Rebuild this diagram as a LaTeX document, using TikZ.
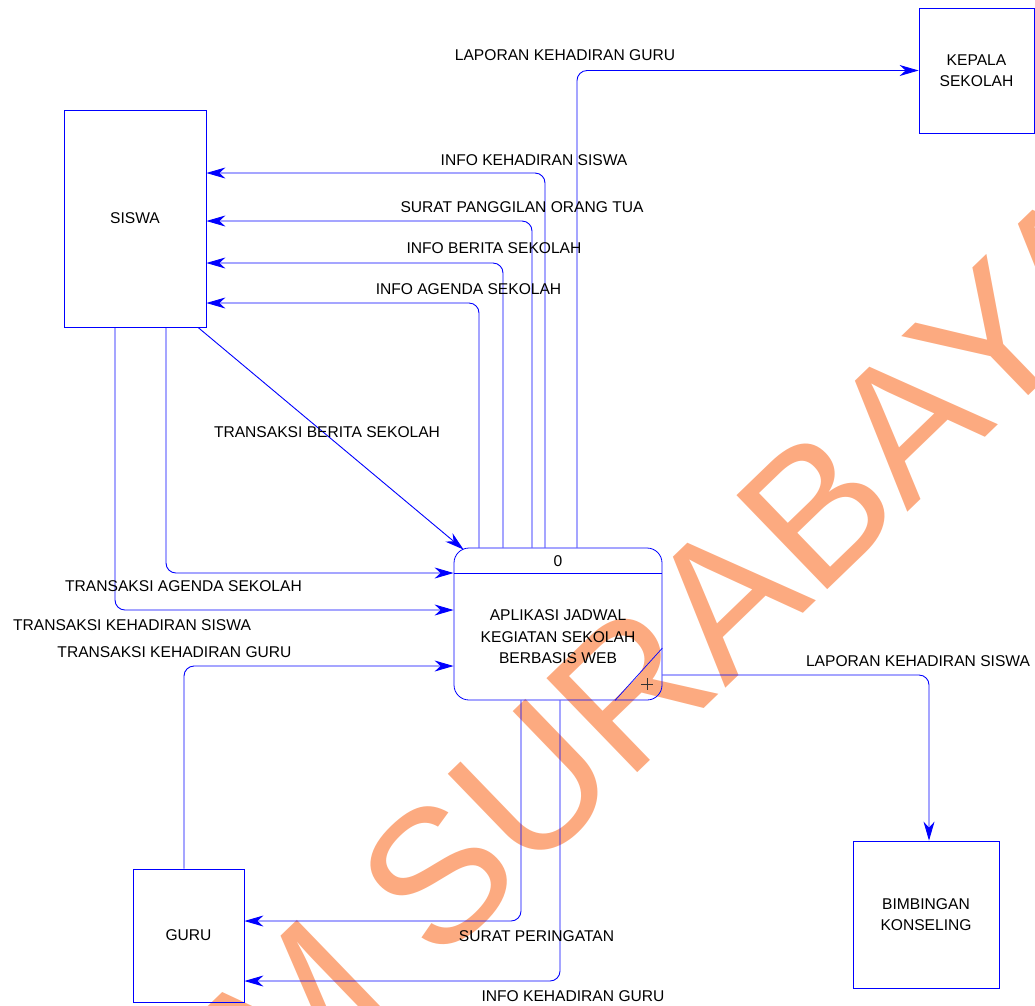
\documentclass[tikz,border=0pt]{standalone}
\usepackage{fontspec}
\setmainfont{Liberation Sans}
\usetikzlibrary{arrows.meta}
\definecolor{wmorange}{RGB}{252,170,128}
\definecolor{lineblue}{RGB}{0,0,255}
\tikzset{
  lbl/.style={inner sep=0pt, font=\fontsize{15.6}{21.5}\selectfont, text=black},
  entity/.style={draw=lineblue, line width=0.8pt, inner sep=0pt, align=center,
    font=\fontsize{15.6}{21.5}\selectfont},
  procbox/.style={draw=lineblue, line width=0.8pt, rounded corners=15pt, inner sep=0pt},
  flow/.style={draw=lineblue, line width=0.9pt, rounded corners=10pt,
    -{Stealth[length=19pt,width=11pt,inset=6pt]}},
  wm/.style={text=wmorange, inner sep=0pt, font=\fontsize{190}{190}\selectfont}
}
\begin{document}
\begin{tikzpicture}[x=1pt,y=-1pt]
\useasboundingbox (0,0) rectangle (1035,1005);
% watermark
\node[wm, rotate=44, anchor=base west] (wmark) at (437,967) {\llap{M\ }SURABAYA};
% entities
\node[entity, minimum width=142pt, minimum height=217pt] (siswa) at (135,218.5) {SISWA};
\node[entity, minimum width=115pt, minimum height=125pt] (kep) at (976.5,70.5) {KEPALA\\SEKOLAH};
\node[entity, minimum width=111pt, minimum height=133pt] (guru) at (188.5,935.5) {GURU};
\node[entity, minimum width=146pt, minimum height=147pt] (bk) at (926,914.5) {BIMBINGAN\\KONSELING};
% process
\node[procbox, minimum width=208pt, minimum height=152pt] (proc) at (558,624) {};
\draw[lineblue, line width=0.8pt] (proc.west |- 0,573) -- (proc.east |- 0,573);
\node[lbl] (pid) at (558,561) {0};
\node[lbl, align=center] (ptxt) at (558,637) {APLIKASI JADWAL\\KEGIATAN SEKOLAH\\BERBASIS WEB};
\draw[lineblue, line width=0.7pt] (proc.east |- 0,648) -- (proc.south -| 615,0);
\draw[black!80, line width=0.6pt] (641,684) -- (653,684) (647,678) -- (647,690);
% flows out of process (top)
\draw[flow] (proc.north -| 577,0) |- (kep.west);
\draw[flow] (proc.north -| 545,0) |- (siswa.east |- 0,173);
\draw[flow] (proc.north -| 532,0) |- (siswa.east |- 0,221);
\draw[flow] (proc.north -| 503,0) |- (siswa.east |- 0,263);
\draw[flow] (proc.north -| 479,0) |- (siswa.east |- 0,303);
% flows into process
\draw[flow] (siswa.south -| 198,0) -- ([shift={(10pt,-2pt)}]proc.north west);
\draw[flow] (siswa.south -| 166,0) |- (proc.west |- 0,573);
\draw[flow] (siswa.south -| 115,0) |- (proc.west |- 0,610);
\draw[flow] (guru.north -| 184,0) |- (proc.west |- 0,666);
% flows out of process (right / bottom)
\draw[flow] (proc.east |- 0,675) -| (bk.north -| 929,0);
\draw[flow] (proc.south -| 521,0) |- (guru.east |- 0,921);
\draw[flow] (proc.south -| 560,0) |- (guru.east |- 0,981);
% labels
\node[lbl] (l1) at (565,55) {LAPORAN KEHADIRAN GURU};
\node[lbl] (l2) at (534,160) {INFO KEHADIRAN SISWA};
\node[lbl] (l3) at (522,207) {SURAT PANGGILAN ORANG TUA};
\node[lbl] (l4) at (494,248) {INFO BERITA SEKOLAH};
\node[lbl] (l5) at (468.5,289) {INFO AGENDA SEKOLAH};
\node[lbl] (l6) at (327,432) {TRANSAKSI BERITA SEKOLAH};
\node[lbl] (l7) at (183.5,586) {TRANSAKSI AGENDA SEKOLAH};
\node[lbl] (l8) at (132,625) {TRANSAKSI KEHADIRAN SISWA};
\node[lbl] (l9) at (174.5,652) {TRANSAKSI KEHADIRAN GURU};
\node[lbl] (l10) at (918,661) {LAPORAN KEHADIRAN SISWA};
\node[lbl] (l11) at (536.5,936) {SURAT PERINGATAN};
\node[lbl] (l12) at (573,996) {INFO KEHADIRAN GURU};
\end{tikzpicture}
\end{document}
